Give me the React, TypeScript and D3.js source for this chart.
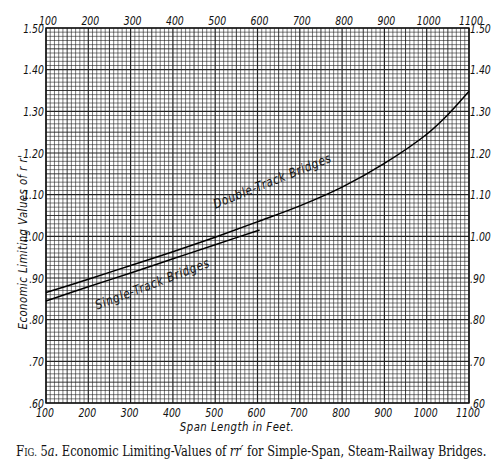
import { useLayoutEffect, useRef, useState } from 'react';
import * as d3 from 'd3';

// span length (ft) and economic limiting values of rr'
const doubleSpans = [100, 200, 300, 400, 500, 600, 700, 800, 900, 1000, 1050, 1100];
const doubleTrack = [0.865, 0.897, 0.93, 0.963, 0.998, 1.035, 1.073, 1.118, 1.175, 1.245, 1.292, 1.348];
const singleSpans = [100, 200, 300, 400, 500, 605];
const singleTrack = [0.845, 0.879, 0.912, 0.946, 0.98, 1.015];

const xTicks = [100, 200, 300, 400, 500, 600, 700, 800, 900, 1000, 1100];
const yTicks = [1.5, 1.4, 1.3, 1.2, 1.1, 1.0, 0.9, 0.8, 0.7, 0.6];
const yTickLabels = ['1.50', '1.40', '1.30', '1.20', '1.10', '1.00', '.90', '.80', '.70', '.60'];

const W = 500;
const H = 470;
const hand = "'DejaVu Sans', sans-serif";
const serif = "'DejaVu Serif', 'Liberation Serif', serif";

// hand-lettered look: italic sans squeezed horizontally
function Hand({
    x,
    y,
    angle = 0,
    anchor = 'middle',
    size = 12,
    squeeze = 0.72,
    spacing = 0,
    children,
}: {
    x: number;
    y: number;
    angle?: number;
    anchor?: string;
    size?: number;
    squeeze?: number;
    spacing?: number;
    children: React.ReactNode;
}) {
    return (
        <text
            transform={`translate(${x},${y}) rotate(${angle}) scale(${squeeze},1)`}
            textAnchor={anchor}
            fontFamily={hand}
            fontStyle="italic"
            fontSize={size}
            letterSpacing={spacing}
            fill="#111"
        >
            {children}
        </text>
    );
}

export default function App() {
    const capRef = useRef<SVGTextElement | null>(null);
    const [capScale, setCapScale] = useState(1);

    // squeeze the caption so it spans the same width as the printed one
    useLayoutEffect(() => {
        if (!capRef.current) return;
        const w = capRef.current.getBBox().width;
        if (w > 0) setCapScale(471 / w);
    }, []);

    const x = d3.scaleLinear().domain([100, 1100]).range([46, 469]);
    const y = d3.scaleLinear().domain([0.6, 1.5]).range([403, 28]);

    const line = d3.line<[number, number]>()
        .x((d) => x(d[0]))
        .y((d) => y(d[1]))
        .curve(d3.curveCatmullRom);

    const dbl = line(doubleSpans.map((s, i) => [s, doubleTrack[i]]))!;
    const sgl = line(singleSpans.map((s, i) => [s, singleTrack[i]]))!;

    // graph paper: every 10 ft / .01, darker every 50 / .05, heavy every 100 / .10
    const vLines = d3.range(100, 1101, 10);
    const hLines = d3.range(60, 151, 1).map((v) => v / 100);
    const vWeight = (v: number) => (v % 100 === 0 ? 1.2 : v % 50 === 0 ? 0.9 : 0.6);
    const hWeight = (i: number) => (i % 10 === 0 ? 1.2 : i % 5 === 0 ? 0.9 : 0.6);

    const [x0, x1] = x.range();
    const [y0, y1] = y.range();

    return (
        <svg
            width={W}
            height={H}
            viewBox={`0 0 ${W} ${H}`}
            style={{ position: 'absolute', left: 0, top: 0, background: '#fff' }}
        >
            <rect width={W} height={H} fill="#fff" />

            {/* grid */}
            <g stroke="#222">
                {vLines.map((v) => (
                    <line key={'v' + v} x1={x(v)} x2={x(v)} y1={y1} y2={y0} strokeWidth={vWeight(v)} />
                ))}
                {hLines.map((v, i) => (
                    <line key={'h' + i} x1={x0} x2={x1} y1={y(v)} y2={y(v)} strokeWidth={hWeight(i)} />
                ))}
                <rect x={x0} y={y1} width={x1 - x0} height={y0 - y1} fill="none" strokeWidth={1.4} stroke="#111" />
            </g>

            {/* curves */}
            <path d={dbl} fill="none" stroke="#000" strokeWidth={1.5} />
            <path d={sgl} fill="none" stroke="#000" strokeWidth={1.5} />

            {/* tick labels */}
            {xTicks.map((t) => (
                <Hand key={'tt' + t} x={x(t) + 2} y={25} size={13}>{t}</Hand>
            ))}
            {xTicks.map((t) => (
                <Hand key={'bt' + t} x={x(t) - 1} y={417} size={13}>{t}</Hand>
            ))}
            {yTicks.map((t, i) => (
                <Hand key={'lt' + t} x={44} y={y(t) + 4.5} anchor="end" size={13}>{yTickLabels[i]}</Hand>
            ))}
            {yTicks.map((t, i) => (
                <Hand key={'rt' + t} x={470} y={y(t) + 4.5} anchor="start" size={13}>{yTickLabels[i]}</Hand>
            ))}

            {/* axis titles */}
            <Hand x={237} y={431} size={13} squeeze={0.78} spacing={0.6}>
                Span  Length  in  Feet.
            </Hand>
            <Hand x={27} y={242} angle={-90} size={13} squeeze={0.78} spacing={0.6}>
                Economic  Limiting  Values  of  r r'
            </Hand>

            {/* curve labels */}
            <Hand x={274} y={185} angle={-22} size={13} squeeze={0.8} spacing={1}>
                Double-Track   Bridges
            </Hand>
            <Hand x={154} y={288} angle={-21} size={13} squeeze={0.8} spacing={1}>
                Single-Track   Bridges
            </Hand>

            {/* caption */}
            <text
                ref={capRef}
                transform={`translate(16,456) scale(${capScale},1)`}
                fontFamily={serif}
                fontSize={14}
                fill="#111"
            >
                <tspan fontSize={14.5}>F</tspan>
                <tspan fontSize={10.5}>IG.</tspan>
                <tspan> 5</tspan>
                <tspan fontStyle="italic">a</tspan>
                <tspan>.  Economic Limiting-Values of </tspan>
                <tspan fontStyle="italic">rr′</tspan>
                <tspan> for Simple-Span, Steam-Railway Bridges.</tspan>
            </text>
        </svg>
    );
}
